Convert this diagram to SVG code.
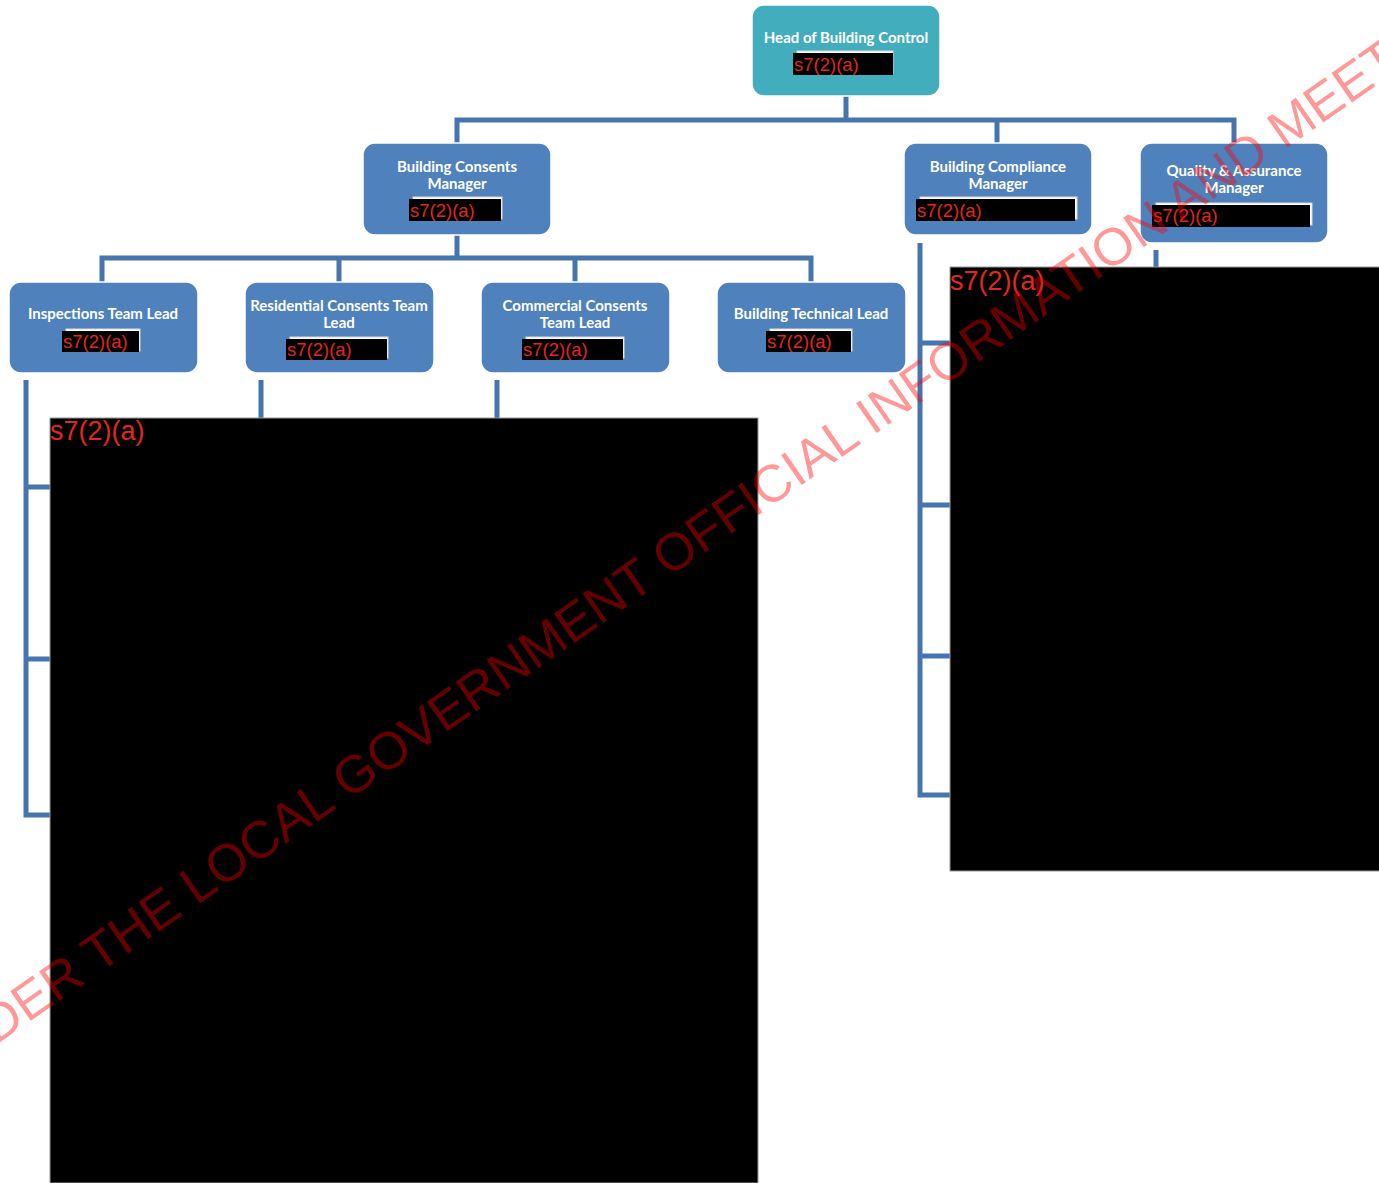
<svg xmlns="http://www.w3.org/2000/svg" width="1379" height="1183" viewBox="0 0 1379 1183">
<style>
.node{fill:#4F81BD;stroke:#FFFFFF;stroke-width:1.5}
.head{fill:#41ADBD;stroke:#FFFFFF;stroke-width:1.5}
.t{font-family:Lato,"Liberation Sans",sans-serif;font-weight:bold;font-size:15px;fill:#FFFFFF;text-anchor:middle}
.rb{fill:#FFFFFF;stroke:#D8D8D8;stroke-width:1}
.rk{fill:#000000}
.rt{font-family:"Liberation Sans",Arial,sans-serif;font-size:18.5px;fill:#E0281E}
.big{font-family:"Liberation Sans",Arial,sans-serif;font-size:27px;fill:#E0281E}
.c{fill:none;stroke:#4674AE;stroke-width:5;stroke-linejoin:miter}
.wm{font-family:"Liberation Sans",Arial,sans-serif;font-size:52.5px;fill:#FF0000;fill-opacity:0.4}
</style>
<rect width="1379" height="1183" fill="#FFFFFF"/>
<g id="connectors">
<path class="c" d="M846 96V120M457 143V120H1234V143M997 120V143"/>
<path class="c" d="M457 235V258M102 282V258H811V282M339 258V282M575 258V282"/>
<path class="c" d="M26 380V815H50M26 487H50M26 659H50"/>
<path class="c" d="M261 380V420M497 380V420"/>
<path class="c" d="M920 243V795H952M920 343H952M920 505H952M920 656H952"/>
<path class="c" d="M1156 250V269"/>
</g>
<g id="head">
<rect class="head" x="752" y="5" width="188" height="91" rx="12"/>
<text class="t" x="846" y="43">Head of Building Control</text>
<rect class="rb" x="797" y="51" width="96" height="22"/>
<rect class="rk" x="793" y="53" width="100" height="22"/>
<text class="rt" x="794" y="71">s7(2)(a)</text>
</g>
<g id="building-consents-manager">
<rect class="node" x="363" y="143" width="188" height="92" rx="12"/>
<text class="t" x="457" y="172">Building Consents</text>
<text class="t" x="457" y="189">Manager</text>
<rect class="rb" x="413" y="197" width="89" height="22"/>
<rect class="rk" x="409" y="199" width="92" height="22"/>
<text class="rt" x="410" y="217">s7(2)(a)</text>
</g>
<g id="building-compliance-manager">
<rect class="node" x="904" y="143" width="188" height="92" rx="12"/>
<text class="t" x="998" y="172">Building Compliance</text>
<text class="t" x="998" y="189">Manager</text>
<rect class="rb" x="920" y="197" width="157" height="22"/>
<rect class="rk" x="916" y="199" width="159" height="22"/>
<text class="rt" x="917" y="217">s7(2)(a)</text>
</g>
<g id="quality-assurance-manager">
<rect class="node" x="1140" y="143" width="188" height="100" rx="12"/>
<text class="t" x="1234" y="176">Quality &amp; Assurance</text>
<text class="t" x="1234" y="193">Manager</text>
<rect class="rb" x="1156" y="203" width="156" height="22"/>
<rect class="rk" x="1152" y="205" width="158" height="22"/>
<text class="rt" x="1153" y="222">s7(2)(a)</text>
</g>
<g id="inspections-team-lead">
<rect class="node" x="9" y="282" width="189" height="91" rx="12"/>
<text class="t" x="103" y="319">Inspections Team Lead</text>
<rect class="rb" x="66" y="329" width="74" height="22"/>
<rect class="rk" x="62" y="331" width="77" height="21"/>
<text class="rt" x="63" y="348">s7(2)(a)</text>
</g>
<g id="residential-consents-team-lead">
<rect class="node" x="245" y="282" width="189" height="91" rx="12"/>
<text class="t" x="339" y="311">Residential Consents Team</text>
<text class="t" x="339" y="328">Lead</text>
<rect class="rb" x="290" y="337" width="98" height="21"/>
<rect class="rk" x="286" y="339" width="101" height="21"/>
<text class="rt" x="287" y="356">s7(2)(a)</text>
</g>
<g id="commercial-consents-team-lead">
<rect class="node" x="481" y="282" width="189" height="91" rx="12"/>
<text class="t" x="575" y="311">Commercial Consents</text>
<text class="t" x="575" y="328">Team Lead</text>
<rect class="rb" x="526" y="337" width="98" height="21"/>
<rect class="rk" x="522" y="339" width="101" height="21"/>
<text class="rt" x="523" y="356">s7(2)(a)</text>
</g>
<g id="building-technical-lead">
<rect class="node" x="717" y="282" width="189" height="91" rx="12"/>
<text class="t" x="811" y="319">Building Technical Lead</text>
<rect class="rb" x="770" y="329" width="82" height="22"/>
<rect class="rk" x="766" y="331" width="85" height="21"/>
<text class="rt" x="767" y="348">s7(2)(a)</text>
</g>
<g id="redactions">
<rect x="50" y="418" width="708" height="765" fill="#000000" stroke="#999999" stroke-width="1"/>
<text class="big" x="50" y="440">s7(2)(a)</text>
<rect x="950" y="267" width="440" height="604" fill="#000000" stroke="#999999" stroke-width="1"/>
<text class="big" x="950" y="290">s7(2)(a)</text>
</g>
<text class="wm" x="-4" y="1045" transform="rotate(-34.8 -4 1045)">DER THE LOCAL GOVERNMENT OFFICIAL INFORMATION AND MEET</text>
</svg>
